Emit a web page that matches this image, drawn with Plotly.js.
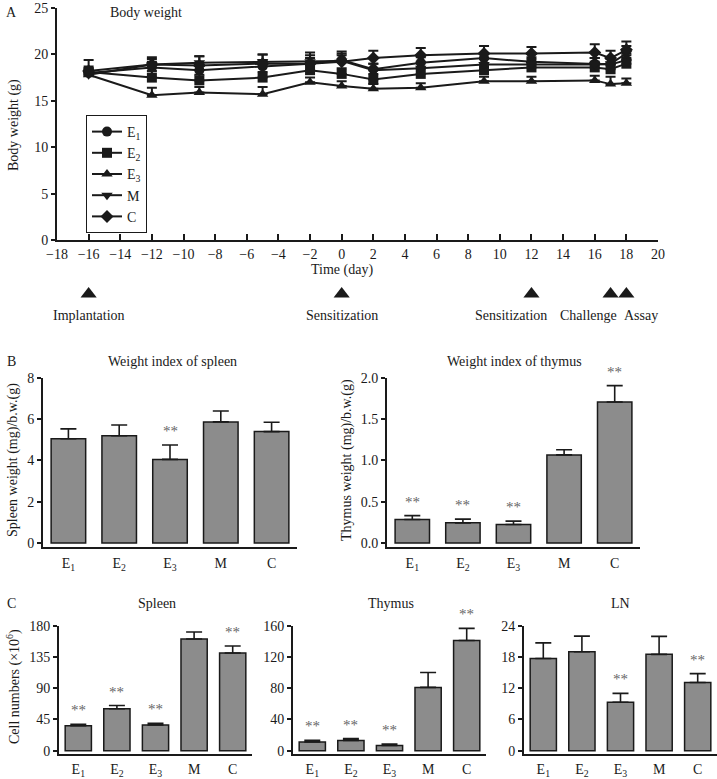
<!DOCTYPE html>
<html>
<head>
<meta charset="utf-8">
<script src="https://cdn.plot.ly/plotly-3.0.1.min.js"></script>
<style>html,body{margin:0;padding:0;background:#fff;}#chart{width:717px;height:779px;}</style>
</head>
<body>
<div id="chart"></div>
<script>
// ---------- Panel A: body weight ----------
const days = [-16, -12, -9, -5, -2, 0, 2, 5, 9, 12, 16, 17, 18];
const bwE1 = [18.0, 18.6, 18.3, 18.7, 19.0, 19.4, 18.4, 19.1, 19.6, 19.2, 19.0, 18.9, 19.4];
const bwE2 = [18.1, 17.5, 17.2, 17.5, 18.3, 17.9, 17.3, 17.9, 18.3, 18.6, 18.6, 18.4, 19.0];
const bwE3 = [17.8, 15.6, 15.9, 15.7, 17.0, 16.6, 16.3, 16.4, 17.1, 17.1, 17.2, 16.8, 16.9];
const bwM  = [17.8, 18.9, 19.1, 19.2, 19.2, 19.3, 18.3, 18.5, 18.9, 18.9, 18.9, 19.0, 20.1];
const bwC  = [18.2, 18.9, 18.8, 19.0, 19.0, 19.2, 19.6, 19.9, 20.1, 20.1, 20.2, 19.6, 20.5];
const errE1 = [0.5, 0.6, 0.6, 0.7, 0.6, 0.5, 0.6, 0.6, 0.5, 0.5, 0.6, 0.6, 0.5];
const errE2 = [0.6, 0.7, 0.6, 0.6, 0.6, 0.6, 0.6, 0.6, 0.6, 0.6, 0.6, 0.7, 0.6];
const errE3 = [0.5, 0.8, 0.6, 0.8, 0.5, 0.5, 0.5, 0.5, 0.5, 0.5, 0.5, 0.8, 0.5];
const errM  = [0.6, 0.6, 0.7, 0.8, 0.7, 0.8, 0.7, 0.7, 0.6, 0.6, 0.7, 0.6, 0.8];
const errC  = [1.2, 0.8, 1.0, 1.0, 1.2, 1.1, 0.8, 0.8, 0.8, 0.7, 0.9, 0.8, 0.9];
const seriesNames = ['E<sub>1</sub>', 'E<sub>2</sub>', 'E<sub>3</sub>', 'M', 'C'];
const seriesSymbols = ['circle', 'square', 'triangle-up', 'triangle-down', 'diamond'];

const eventDays = [-16, 0, 12, 17, 18];
const eventLabels = ['Implantation', 'Sensitization', 'Sensitization', 'Challenge', 'Assay'];

// ---------- Panel B & C: bars ----------
const groups = ['E<sub>1</sub>', 'E<sub>2</sub>', 'E<sub>3</sub>', 'M', 'C'];
const spleenIndex    = [5.05, 5.2, 4.05, 5.87, 5.4];
const spleenIndexErr = [0.48, 0.52, 0.7, 0.53, 0.45];
const spleenIndexSig = [0, 0, 1, 0, 0];
const thymusIndex    = [0.284, 0.243, 0.223, 1.067, 1.708];
const thymusIndexErr = [0.046, 0.045, 0.041, 0.063, 0.2];
const thymusIndexSig = [1, 1, 1, 0, 1];
const spleenCells    = [36, 60.5, 37, 160.8, 140.6];
const spleenCellsErr = [2, 4.5, 2.4, 10.2, 10.1];
const spleenCellsSig = [1, 1, 1, 0, 1];
const thymusCells    = [11.1, 13.2, 6.8, 81, 141];
const thymusCellsErr = [2.1, 2.2, 1.7, 19, 15.6];
const thymusCellsSig = [1, 1, 1, 0, 1];
const lnCells        = [17.7, 19.0, 9.3, 18.5, 13.1];
const lnCellsErr     = [3.0, 3.0, 1.7, 3.45, 1.7];
const lnCellsSig     = [0, 0, 1, 0, 1];

// ---------- layout helpers ----------
const W = 717, H = 779;
const px = v => v / W;
const py = v => 1 - v / H;
const FONT = 'Liberation Serif, Times New Roman, serif';
const INK = '#1a1a1a';

const traces = [];
const bwSeries = [bwE1, bwE2, bwE3, bwM, bwC];
const bwErr = [errE1, errE2, errE3, errM, errC];
bwSeries.forEach((s, i) => {
  traces.push({
    type: 'scatter', mode: 'lines+markers', x: days, y: s, name: seriesNames[i],
    xaxis: 'x', yaxis: 'y',
    line: {color: INK, width: 2},
    marker: {symbol: seriesSymbols[i], size: 10, color: INK},
    error_y: {type: 'data', symmetric: false, array: bwErr[i], arrayminus: bwErr[i].map(() => 0),
              color: INK, thickness: 2, width: 5},
    showlegend: true
  });
});
traces.push({
  type: 'scatter', mode: 'markers', x: eventDays, y: eventDays.map(() => 0.5),
  xaxis: 'x2', yaxis: 'y2', showlegend: false,
  marker: {symbol: 'triangle-up', size: 14, color: INK}
});

function barTrace(vals, errs, ax) {
  return {
    type: 'bar', x: groups, y: vals, xaxis: 'x' + ax, yaxis: 'y' + ax, width: 0.68,
    showlegend: false,
    marker: {color: '#8c8c8c', line: {color: INK, width: 1.5}},
    error_y: {type: 'data', symmetric: false, array: errs, arrayminus: errs.map(() => 0),
              color: INK, thickness: 1.6, width: 8}
  };
}
traces.push(barTrace(spleenIndex, spleenIndexErr, 3));
traces.push(barTrace(thymusIndex, thymusIndexErr, 4));
traces.push(barTrace(spleenCells, spleenCellsErr, 5));
traces.push(barTrace(thymusCells, thymusCellsErr, 6));
traces.push(barTrace(lnCells, lnCellsErr, 7));

const tickFont = {family: FONT, size: 14, color: INK};
function catX(domain, anchor) {
  return {domain: domain, anchor: anchor, range: [-0.5, 4.5], showline: true, linewidth: 2,
          linecolor: INK, ticks: '', showgrid: false, zeroline: false, tickfont: tickFont,
          ticklabelstandoff: 2, fixedrange: true};
}
function valY(domain, anchor, range, tickvals, fmt) {
  return {domain: domain, anchor: anchor, range: range, tickvals: tickvals, tickformat: fmt,
          showline: true, linewidth: 2, linecolor: INK, ticks: 'outside', ticklen: 4, tickwidth: 2,
          tickcolor: INK, showgrid: false, zeroline: false, tickfont: tickFont, fixedrange: true};
}

const annotations = [];
function txt(text, x, y, size, opts) {
  annotations.push(Object.assign({text: text, x: px(x), y: py(y), xref: 'paper', yref: 'paper',
    showarrow: false, xanchor: 'center', yanchor: 'middle',
    font: {family: FONT, size: size, color: INK}}, opts || {}));
}
txt('A', 12, 12, 14);
txt('Body weight', 108, 12, 14, {xanchor: 'left'});
txt('Time (day)', 342, 270, 14);
txt('Body weight (g)', 14, 125, 14, {textangle: -90});
txt('B', 12, 361, 14);
txt('Weight index of spleen', 172, 361, 14);
txt('Weight index of thymus', 514, 361, 14);
txt('Spleen weight (mg)/b.w.(g)', 13, 460, 14, {textangle: -90});
txt('Thymus weight (mg)/b.w.(g)', 347, 460, 14, {textangle: -90});
txt('C', 12, 603, 14);
txt('Spleen', 157, 603, 14);
txt('Thymus', 391, 603, 14);
txt('LN', 620, 603, 14);
txt('Cell numbers (×10<sup>6</sup>)', 13, 687, 14, {textangle: -90});

const eventShift = [0, 0, -20, -22, 15];
eventDays.forEach((d, i) => {
  annotations.push({text: eventLabels[i], x: d, xref: 'x2', y: py(316), yref: 'paper',
    xshift: eventShift[i], showarrow: false, xanchor: 'center', yanchor: 'middle',
    font: {family: FONT, size: 14, color: INK}});
});

function stars(vals, errs, sig, ax) {
  sig.forEach((s, i) => {
    if (!s) return;
    annotations.push({text: '**', x: groups[i], y: vals[i] + errs[i], xref: 'x' + ax, yref: 'y' + ax,
      yshift: 14, showarrow: false, xanchor: 'center', yanchor: 'middle',
      font: {family: FONT, size: 15, color: '#666'}});
  });
}
stars(spleenIndex, spleenIndexErr, spleenIndexSig, 3);
stars(thymusIndex, thymusIndexErr, thymusIndexSig, 4);
stars(spleenCells, spleenCellsErr, spleenCellsSig, 5);
stars(thymusCells, thymusCellsErr, thymusCellsSig, 6);
stars(lnCells, lnCellsErr, lnCellsSig, 7);

const layout = {
  width: W, height: H, margin: {l: 0, r: 0, t: 0, b: 0},
  paper_bgcolor: '#fff', plot_bgcolor: 'rgba(0,0,0,0)',
  font: {family: FONT, color: INK, size: 14},
  showlegend: true,
  legend: {x: px(86), y: py(115), xanchor: 'left', yanchor: 'top', bgcolor: '#fff',
           bordercolor: INK, borderwidth: 1, font: {family: FONT, size: 14, color: INK},
           tracegroupgap: 0, itemwidth: 30},
  xaxis: {domain: [px(57), px(658)], anchor: 'y', range: [-18, 20], dtick: 2, tick0: -18,
          showline: true, linewidth: 2, linecolor: INK, ticks: 'inside', ticklen: 6, tickwidth: 2,
          tickcolor: INK, showgrid: false, zeroline: false, tickfont: tickFont, fixedrange: true},
  yaxis: {domain: [py(240), py(8)], anchor: 'x', range: [0, 25], dtick: 5,
          showline: true, linewidth: 2, linecolor: INK, ticks: 'outside', ticklen: 4, tickwidth: 2,
          tickcolor: INK, showgrid: false, zeroline: false, tickfont: tickFont, fixedrange: true},
  xaxis2: {domain: [px(57), px(658)], anchor: 'y2', range: [-18, 20], visible: false, fixedrange: true},
  yaxis2: {domain: [py(304), py(284)], anchor: 'x2', range: [0, 1], visible: false, fixedrange: true},
  xaxis3: catX([px(43), px(297)], 'y3'),
  yaxis3: valY([py(547), py(378)], 'x3', [-0.2, 8], [0, 2, 4, 6, 8], 'd'),
  xaxis4: catX([px(387), px(640)], 'y4'),
  yaxis4: valY([py(547), py(378)], 'x4', [-0.05, 2], [0, 0.5, 1, 1.5, 2], '.1f'),
  xaxis5: catX([px(59), px(252)], 'y5'),
  yaxis5: valY([py(753.5), py(625.7)], 'x5', [-4, 180], [0, 45, 90, 135, 180], 'd'),
  xaxis6: catX([px(293), px(486)], 'y6'),
  yaxis6: valY([py(753.5), py(625.7)], 'x6', [-3.6, 160], [0, 40, 80, 120, 160], 'd'),
  xaxis7: catX([px(524), px(717)], 'y7'),
  yaxis7: valY([py(753.5), py(625.7)], 'x7', [-0.54, 24], [0, 6, 12, 18, 24], 'd'),
  annotations: annotations
};

Plotly.newPlot('chart', traces, layout, {displayModeBar: false, staticPlot: true});
</script>
</body>
</html>
